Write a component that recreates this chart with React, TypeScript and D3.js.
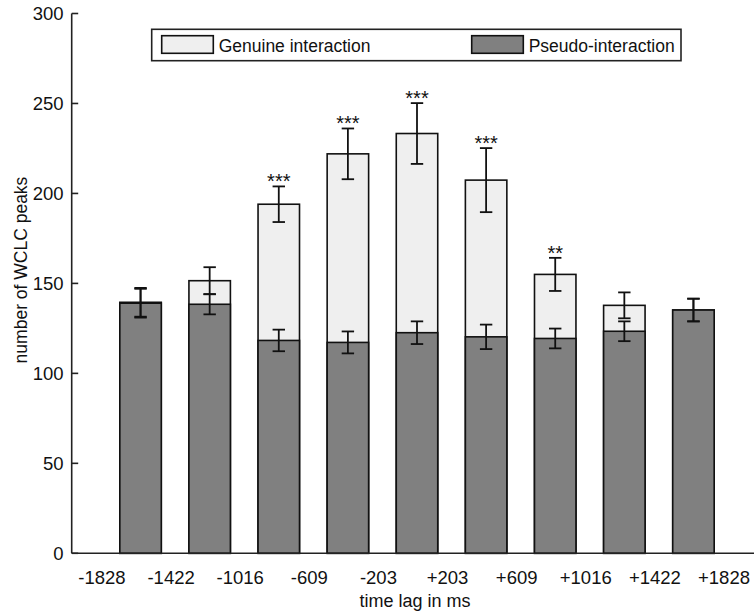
import React, { useEffect, useRef } from 'react'
import * as d3 from 'd3'

const lagLabels = ['-1828', '-1422', '-1016', '-609', '-203', '+203', '+609', '+1016', '+1422', '+1828']
const bins = ['b1', 'b2', 'b3', 'b4', 'b5', 'b6', 'b7', 'b8', 'b9']
const genuine = [139.5, 151.5, 194, 222, 233.3, 207.4, 155, 137.8, 135.2]
const genuineErr = [8, 7.5, 9.9, 14.1, 16.9, 17.8, 9.2, 7.2, 6.3]
const pseudo = [139, 138.4, 118.3, 117.2, 122.6, 120.3, 119.4, 123.4, 135.2]
const pseudoErr = [8, 5.6, 6, 6.1, 6.3, 6.8, 5.5, 5.5, 6.3]
const stars = ['', '', '***', '***', '***', '***', '**', '', '']
const yTicks = [0, 50, 100, 150, 200, 250, 300]

const W = 754
const H = 613
const FONT = 'Liberation Sans, Arial, Helvetica, sans-serif'

export default function App() {
	const svgRef = useRef<SVGSVGElement>(null)

	useEffect(() => {
		const svg = d3.select(svgRef.current)
		svg.selectAll('*').remove()

		const left = 71.7
		const bottom = 553.3
		const top = 13.5

		const y = d3.scaleLinear().domain([0, 300]).range([bottom, top])
		const x = d3.scaleBand<string>()
			.domain(bins)
			.range([106, 728])
			.paddingInner(0.4)
			.paddingOuter(0.2)
		const bw = x.bandwidth()
		const edge = (i: number) => (i < bins.length ? (x(bins[i]) as number) - x.step() * 0.2 : 728)

		// bars: genuine behind, pseudo in front
		const g = svg.append('g')
		g.selectAll('rect.gen')
			.data(genuine)
			.join('rect')
			.attr('x', (d, i) => x(bins[i]) as number)
			.attr('y', d => y(d))
			.attr('width', bw)
			.attr('height', d => bottom - y(d))
			.attr('fill', '#efefef')
			.attr('stroke', '#111')
			.attr('stroke-width', 1.6)
		g.selectAll('rect.ps')
			.data(pseudo)
			.join('rect')
			.attr('x', (d, i) => x(bins[i]) as number)
			.attr('y', d => y(d))
			.attr('width', bw)
			.attr('height', d => bottom - y(d))
			.attr('fill', '#808080')
			.attr('stroke', '#111')
			.attr('stroke-width', 1.6)

		const errBars = (vals: number[], errs: number[]) => {
			vals.forEach((v, i) => {
				const cx = (x(bins[i]) as number) + bw / 2
				const y1 = y(v + errs[i])
				const y0 = y(v - errs[i])
				const e = g.append('g').attr('stroke', '#111').attr('stroke-width', 1.8)
				e.append('line').attr('x1', cx).attr('x2', cx).attr('y1', y1).attr('y2', y0)
				e.append('line').attr('x1', cx - 6.2).attr('x2', cx + 6.2).attr('y1', y1).attr('y2', y1)
				e.append('line').attr('x1', cx - 6.2).attr('x2', cx + 6.2).attr('y1', y0).attr('y2', y0)
			})
		}
		errBars(genuine, genuineErr)
		errBars(pseudo, pseudoErr)

		// significance stars
		g.selectAll('text.star')
			.data(stars)
			.join('text')
			.attr('x', (d, i) => (x(bins[i]) as number) + bw / 2)
			.attr('y', (d, i) => y(genuine[i] + genuineErr[i]) + 2)
			.attr('text-anchor', 'middle')
			.attr('font-family', FONT)
			.attr('font-size', 20)
			.attr('fill', '#111')
			.text(d => d)

		// axes
		const ax = svg.append('g').attr('stroke', '#222').attr('stroke-width', 1.6)
		ax.append('line').attr('x1', left).attr('x2', left).attr('y1', top).attr('y2', bottom)
		ax.append('line').attr('x1', left).attr('x2', W).attr('y1', bottom).attr('y2', bottom)
		ax.selectAll('line.tick')
			.data(yTicks)
			.join('line')
			.attr('x1', left)
			.attr('x2', left + 6.5)
			.attr('y1', d => y(d))
			.attr('y2', d => y(d))

		svg.append('g')
			.selectAll('text')
			.data(yTicks)
			.join('text')
			.attr('x', 63.5)
			.attr('y', d => y(d))
			.attr('dy', '0.36em')
			.attr('text-anchor', 'end')
			.attr('font-family', FONT)
			.attr('font-size', 18.5)
			.attr('fill', '#111')
			.text(d => d)

		svg.append('g')
			.selectAll('text')
			.data(lagLabels)
			.join('text')
			.attr('x', (d, i) => edge(i) - 4)
			.attr('y', 583.5)
			.attr('text-anchor', 'middle')
			.attr('font-family', FONT)
			.attr('font-size', 18.5)
			.attr('fill', '#111')
			.text(d => d)

		svg.append('text')
			.attr('x', 415)
			.attr('y', 607)
			.attr('text-anchor', 'middle')
			.attr('font-family', FONT)
			.attr('font-size', 18)
			.attr('fill', '#111')
			.text('time lag in ms')

		svg.append('text')
			.attr('transform', 'translate(26.5,270) rotate(-90)')
			.attr('text-anchor', 'middle')
			.attr('font-family', FONT)
			.attr('font-size', 17.5)
			.attr('fill', '#111')
			.text('number of WCLC peaks')

		// legend
		const lg = svg.append('g')
		lg.append('rect')
			.attr('x', 151.7).attr('y', 29.3).attr('width', 529.3).attr('height', 31.4)
			.attr('fill', '#fff').attr('stroke', '#222').attr('stroke-width', 1.6)
		const items = [
			{ label: 'Genuine interaction', fill: '#efefef', x: 161.7 },
			{ label: 'Pseudo-interaction', fill: '#808080', x: 471.7 },
		]
		items.forEach(it => {
			lg.append('rect')
				.attr('x', it.x).attr('y', 35.7).attr('width', 51.6).attr('height', 17.6)
				.attr('fill', it.fill).attr('stroke', '#111').attr('stroke-width', 1.6)
			lg.append('text')
				.attr('x', it.x + 57)
				.attr('y', 51.5)
				.attr('font-family', FONT)
				.attr('font-size', 17.5)
				.attr('fill', '#111')
				.text(it.label)
		})
	}, [])

	return (
		<div style={{ position: 'absolute', left: 0, top: 0, width: W, height: H, background: '#fff' }}>
			<svg ref={svgRef} width={W} height={H} style={{ display: 'block' }} />
		</div>
	)
}
